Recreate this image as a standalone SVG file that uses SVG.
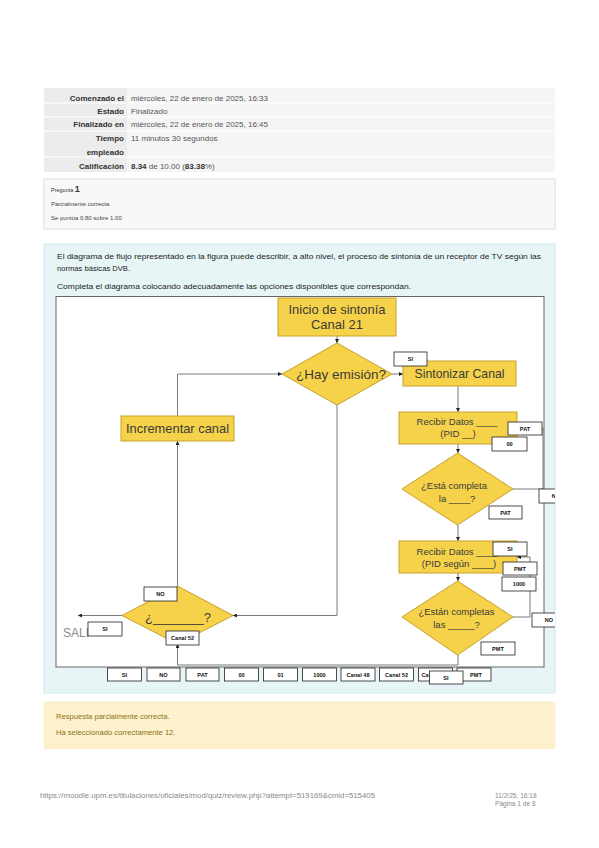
<svg xmlns="http://www.w3.org/2000/svg" width="599" height="848" viewBox="0 0 599 848">
<defs>
<style>
.t{font-family:"Liberation Sans",Arial,sans-serif}
.lab{font-family:"Liberation Sans",Arial,sans-serif;font-size:8px;font-weight:bold;fill:#333;text-anchor:end}
.val{font-family:"Liberation Sans",Arial,sans-serif;font-size:8px;fill:#555}
.nd{fill:#F6D24A;stroke:#C6A12B;stroke-width:1}
.nt{font-family:"Liberation Sans",Arial,sans-serif;fill:#3a3a3a;text-anchor:middle}
.cn{fill:none;stroke:#7a7a7a;stroke-width:1}
.ab rect{fill:#fff;stroke:#222;stroke-width:0.8}
.ab text{font-family:"Liberation Sans",Arial,sans-serif;font-size:5.6px;font-weight:bold;fill:#111;text-anchor:middle}
</style>
<marker id="ar" viewBox="0 0 6 6" refX="6" refY="3" markerWidth="4" markerHeight="4" orient="auto" markerUnits="userSpaceOnUse">
<path d="M0,0 L6,3 L0,6 z" fill="#222"/>
</marker>
<clipPath id="pg"><rect x="0" y="0" width="555" height="848"/></clipPath>
</defs>
<rect width="599" height="848" fill="#fff"/>

<!-- Summary table -->
<g id="summary">
<rect x="44" y="88" width="511" height="84" fill="#f5f5f5"/>
<rect x="44" y="88" width="83" height="84" fill="#ececec"/>
<g stroke="#fff" stroke-width="1.2">
<line x1="44" y1="103" x2="555" y2="103"/>
<line x1="44" y1="117" x2="555" y2="117"/>
<line x1="44" y1="131" x2="555" y2="131"/>
<line x1="44" y1="157" x2="555" y2="157"/>
</g>
<text class="lab" x="124" y="100.5">Comenzado el</text>
<text class="val" x="131" y="100.5">miércoles, 22 de enero de 2025, 16:33</text>
<text class="lab" x="124" y="113.5">Estado</text>
<text class="val" x="131" y="113.5">Finalizado</text>
<text class="lab" x="124" y="127">Finalizado en</text>
<text class="val" x="131" y="127">miércoles, 22 de enero de 2025, 16:45</text>
<text class="lab" x="124" y="141">Tiempo</text>
<text class="lab" x="124" y="154.5">empleado</text>
<text class="val" x="131" y="141">11 minutos 30 segundos</text>
<text class="lab" x="124" y="169">Calificación</text>
<text class="val" x="131" y="169"><tspan font-weight="bold" fill="#333">8.34</tspan> de 10.00 (<tspan font-weight="bold" fill="#333">83.38</tspan>%)</text>
</g>

<!-- Question info -->
<g id="question-info">
<rect x="44" y="179" width="511" height="50" fill="#f8f8f8" stroke="#dcdcdc" stroke-width="1"/>
<text class="t" x="51" y="191.5" font-size="5.5" fill="#333">Pregunta <tspan font-size="9" font-weight="bold">1</tspan></text>
<text class="t" x="51" y="205.5" font-size="6" fill="#444">Parcialmente correcta</text>
<text class="t" x="51" y="220" font-size="6" fill="#444">Se puntúa 0.80 sobre 1.00</text>
</g>

<!-- Formulation box -->
<g id="formulation">
<rect x="44" y="244" width="511" height="449" fill="#e7f5f7" stroke="#cfe9ee" stroke-width="1"/>
<text class="t" x="57" y="259" font-size="7.6" fill="#222" textLength="484" lengthAdjust="spacingAndGlyphs">El diagrama de flujo representado en la figura puede describir, a alto nivel, el proceso de sintonía de un receptor de TV según las</text>
<text class="t" x="57" y="271" font-size="7.6" fill="#222">normas básicas DVB.</text>
<text class="t" x="57" y="289" font-size="7.6" fill="#222" textLength="354" lengthAdjust="spacingAndGlyphs">Completa el diagrama colocando adecuadamente las opciones disponibles que correspondan.</text>
<rect x="56" y="296.5" width="488" height="370.5" fill="#fff" stroke="#666" stroke-width="1"/>
</g>

<!-- Connectors -->
<g id="connectors">
<path class="cn" d="M337,336 V343" marker-end="url(#ar)"/>
<path class="cn" d="M392,374 H403" marker-end="url(#ar)"/>
<path class="cn" d="M458,386 V412" marker-end="url(#ar)"/>
<path class="cn" d="M458,444 V453" marker-end="url(#ar)"/>
<path class="cn" d="M513,489 H543 V428 H517" marker-end="url(#ar)"/>
<path class="cn" d="M458,525 V541" marker-end="url(#ar)"/>
<path class="cn" d="M458,573 V581" marker-end="url(#ar)"/>
<path class="cn" d="M513,617 H530 V557 H517" marker-end="url(#ar)"/>
<path class="cn" d="M458,655 V665 H177.5 V644" marker-end="url(#ar)"/>
<path class="cn" d="M337,405 V615.5 H233" marker-end="url(#ar)"/>
<path class="cn" d="M122,615.5 H78" marker-end="url(#ar)"/>
<path class="cn" d="M177.5,586 V441" marker-end="url(#ar)"/>
<path class="cn" d="M177.5,416 V374 H282" marker-end="url(#ar)"/>
</g>

<!-- Nodes -->
<g id="n-inicio">
<rect class="nd" x="278" y="298" width="118" height="38"/>
<text class="nt" x="337" y="313.5" font-size="13" textLength="97" lengthAdjust="spacingAndGlyphs">Inicio de sintonía</text>
<text class="nt" x="337" y="329" font-size="13">Canal 21</text>
</g>
<g id="n-hay">
<polygon class="nd" points="337,343 392,374 337,405 282,374"/>
<text class="nt" x="341" y="379" font-size="13" textLength="90" lengthAdjust="spacingAndGlyphs">¿Hay emisión?</text>
</g>
<g id="n-sintonizar">
<rect class="nd" x="403" y="361" width="113" height="25"/>
<text class="nt" x="459.5" y="378" font-size="13" textLength="90" lengthAdjust="spacingAndGlyphs">Sintonizar Canal</text>
</g>
<g id="n-incrementar">
<rect class="nd" x="121" y="416" width="113" height="25"/>
<text class="nt" x="177.5" y="433" font-size="13" textLength="103" lengthAdjust="spacingAndGlyphs">Incrementar canal</text>
</g>
<g id="n-recibir1">
<rect class="nd" x="399" y="412" width="118" height="32"/>
<text class="nt" x="457" y="425" font-size="9.5">Recibir Datos ____</text>
<text class="nt" x="458" y="436.5" font-size="9.5">(PID __)</text>
</g>
<g id="n-esta">
<polygon class="nd" points="457.5,453 513,489 457.5,525 402,489"/>
<text class="nt" x="454" y="488.5" font-size="9.5">¿Está completa</text>
<text class="nt" x="457" y="501.5" font-size="9.5">la ____?</text>
</g>
<g id="n-recibir2">
<rect class="nd" x="399" y="541" width="118" height="32"/>
<text class="nt" x="457" y="554.5" font-size="9.5">Recibir Datos ____</text>
<text class="nt" x="459" y="566.5" font-size="9.5">(PID según ____)</text>
</g>
<g id="n-estan">
<polygon class="nd" points="457.5,581 513,617 457.5,655 402,617"/>
<text class="nt" x="456.5" y="615" font-size="9.5">¿Están completas</text>
<text class="nt" x="456.5" y="627.5" font-size="9.5">las _____?</text>
</g>
<g id="n-blank">
<polygon class="nd" points="177.5,586 233,615.5 177.5,644 122,615.5"/>
<text class="nt" x="178" y="622" font-size="13">¿_______?</text>
</g>
<g id="n-salida">
<text class="t" x="63" y="637" font-size="12" fill="#8a8a8a">SALI</text>
</g>

<!-- Placed answers -->
<g id="answers" class="ab">
<g><rect x="394" y="352" width="33" height="14"/><text x="410.5" y="361">SI</text></g>
<g><rect x="508" y="422" width="34" height="13"/><text x="525" y="430.5">PAT</text></g>
<g><rect x="492" y="437" width="35" height="14"/><text x="509.5" y="446">00</text></g>
<g clip-path="url(#pg)"><rect x="539" y="489" width="34" height="14"/><text x="556" y="498">NO</text></g>
<g><rect x="489" y="506" width="33" height="13"/><text x="505.5" y="514.5">PAT</text></g>
<g><rect x="493" y="542" width="34" height="14"/><text x="510" y="551">SI</text></g>
<g><rect x="503" y="562" width="34" height="13"/><text x="520" y="570.5">PMT</text></g>
<g><rect x="502" y="577" width="34" height="14"/><text x="519" y="586">1000</text></g>
<g clip-path="url(#pg)"><rect x="532" y="613" width="34" height="14"/><text x="549" y="622">NO</text></g>
<g><rect x="481" y="642" width="34" height="13"/><text x="498" y="650.5">PMT</text></g>
<g><rect x="144" y="587" width="33" height="14"/><text x="160.5" y="596">NO</text></g>
<g><rect x="88" y="622" width="34" height="14"/><text x="105" y="631">SI</text></g>
<g><rect x="166" y="631" width="33" height="14"/><text x="182.5" y="640">Canal 52</text></g>
</g>

<!-- Answer pool -->
<g id="pool" class="ab">
<g><rect x="107.5" y="668" width="34" height="13"/><text x="124.5" y="676.5">SI</text></g>
<g><rect x="147" y="668" width="33" height="13"/><text x="163.5" y="676.5">NO</text></g>
<g><rect x="186" y="668" width="33" height="13"/><text x="202.5" y="676.5">PAT</text></g>
<g><rect x="224.5" y="668" width="34" height="13"/><text x="241.5" y="676.5">00</text></g>
<g><rect x="263.5" y="668" width="34" height="13"/><text x="280.5" y="676.5">01</text></g>
<g><rect x="302.5" y="668" width="34" height="13"/><text x="319.5" y="676.5">1000</text></g>
<g><rect x="341" y="668" width="34" height="13"/><text x="358" y="676.5">Canal 48</text></g>
<g><rect x="379.5" y="668" width="34" height="13"/><text x="396.5" y="676.5">Canal 52</text></g>
<g><rect x="418.5" y="668" width="34" height="13"/><text x="421.5" y="676.5" style="text-anchor:start">Ca</text></g>
<g><rect x="457" y="668" width="34" height="13"/><text x="476" y="676.5">PMT</text></g>
<g><rect x="429.5" y="671" width="33.5" height="13"/><text x="446" y="679.5">SI</text></g>
</g>

<!-- Feedback -->
<g id="feedback">
<rect x="44" y="702" width="511" height="46.5" rx="2" fill="#fdf2cd" stroke="#faebc0" stroke-width="0.8"/>
<text class="t" x="56" y="718.5" font-size="7.6" fill="#8d6e12">Respuesta parcialmente correcta.</text>
<text class="t" x="56" y="735" font-size="7.6" fill="#8d6e12">Ha seleccionado correctamente 12.</text>
</g>

<!-- Footer -->
<g id="footer">
<text class="t" x="40" y="798" font-size="6.6" fill="#8a8a8a" textLength="335" lengthAdjust="spacingAndGlyphs">https://moodle.upm.es/titulaciones/oficiales/mod/quiz/review.php?attempt=519169&amp;cmid=515405</text>
<text class="t" x="495" y="798" font-size="6.6" fill="#8a8a8a">11/2/25, 16:18</text>
<text class="t" x="495" y="806" font-size="6.6" fill="#8a8a8a">Página 1 de 8</text>
</g>
</svg>
